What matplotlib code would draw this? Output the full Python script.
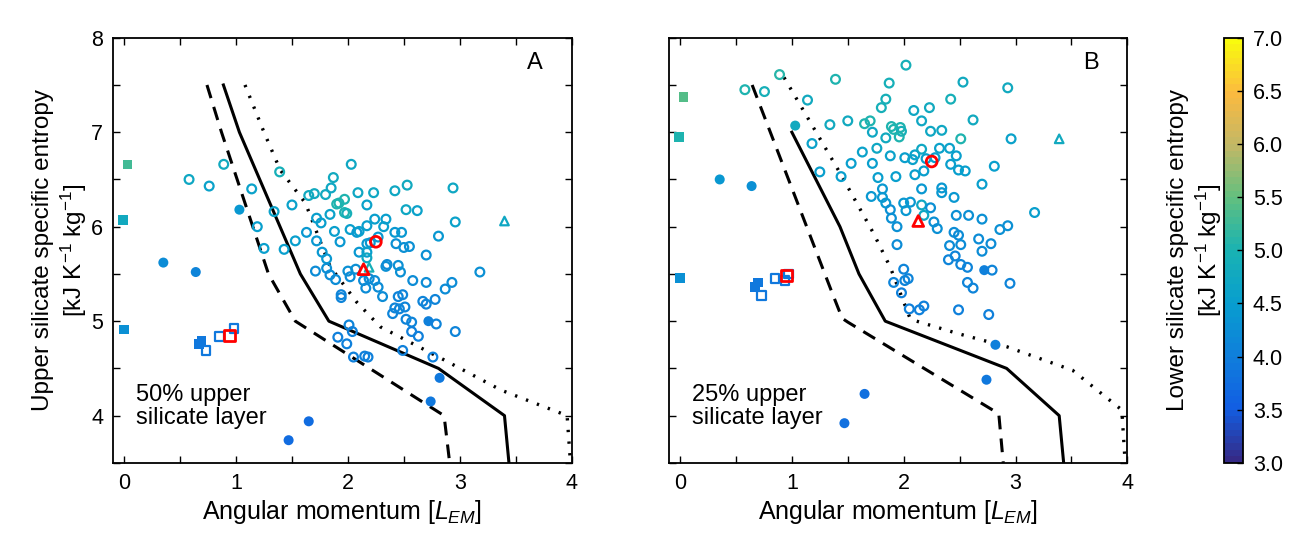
import matplotlib
matplotlib.use('Agg')
import matplotlib.pyplot as plt
import numpy as np
from matplotlib.colors import LinearSegmentedColormap, Normalize
from matplotlib.ticker import MultipleLocator
import matplotlib.cm as cm

plt.rcParams['font.family'] = ['Liberation Sans', 'DejaVu Sans']
plt.rcParams['mathtext.fontset'] = 'custom'
plt.rcParams['mathtext.rm'] = 'Liberation Sans'
plt.rcParams['mathtext.it'] = 'Liberation Sans:italic'

# parula-like colormap, 64 steps like the original
parula = LinearSegmentedColormap.from_list('parula', [
    (0.000, (0.208, 0.166, 0.529)),
    (0.125, (0.070, 0.370, 0.890)),
    (0.250, (0.060, 0.500, 0.860)),
    (0.375, (0.030, 0.620, 0.810)),
    (0.500, (0.100, 0.700, 0.700)),
    (0.625, (0.380, 0.750, 0.500)),
    (0.750, (0.760, 0.720, 0.400)),
    (0.875, (0.985, 0.730, 0.250)),
    (1.000, (0.976, 0.983, 0.054))], N=64)
norm = Normalize(3.0, 7.0)

# ---------------- panel A data (x = angular momentum, y = upper entropy, c = lower entropy)
a_open_x = [0.58, 0.76, 0.89, 1.14, 1.39, 1.34, 1.19, 1.25, 1.43, 1.50, 1.53, 1.65, 1.70, 1.80,
            1.85, 1.87, 2.03, 1.90, 1.92, 1.97, 1.97, 1.99, 1.84, 1.72, 1.76, 1.63, 1.72, 1.88,
            1.93, 2.02, 2.09, 2.17, 2.23, 2.42, 2.53, 2.52, 2.62, 2.94, 2.96, 2.24, 2.34, 2.17,
            2.08, 2.10, 2.32, 2.27, 2.17, 2.20, 2.42, 2.48, 2.43, 2.50, 2.55, 2.81, 2.70, 3.18,
            2.10, 2.17, 2.17, 1.77, 1.81, 1.71, 1.81, 1.84, 1.89, 2.00, 2.02, 2.07, 2.14, 2.19,
            2.24, 2.16, 2.27, 2.31, 2.34, 2.35, 2.45, 2.47, 2.58, 2.70, 2.93, 2.87, 2.78, 2.67,
            2.70, 2.45, 2.49, 2.51, 2.42, 2.46, 2.40, 2.52, 2.57, 2.79, 2.96, 2.57, 2.63, 2.49,
            2.76, 1.94, 1.94, 2.01, 2.04, 1.91, 1.99, 2.05, 2.15, 2.18]
a_open_y = [6.50, 6.43, 6.66, 6.40, 6.58, 6.16, 6.00, 5.77, 5.76, 6.23, 5.85, 6.33, 6.35, 6.34,
            6.41, 6.52, 6.66, 6.24, 6.25, 6.29, 6.15, 6.14, 6.13, 6.09, 6.04, 5.94, 5.85, 5.95,
            5.84, 5.97, 6.36, 6.23, 6.36, 6.38, 6.44, 6.18, 6.17, 6.41, 6.05, 6.08, 6.08, 6.01,
            5.94, 5.95, 6.00, 5.89, 5.82, 5.83, 5.94, 5.94, 5.82, 5.78, 5.79, 5.90, 5.70, 5.52,
            5.73, 5.73, 5.67, 5.73, 5.66, 5.53, 5.56, 5.49, 5.44, 5.53, 5.47, 5.55, 5.43, 5.45,
            5.43, 5.35, 5.36, 5.26, 5.58, 5.60, 5.59, 5.52, 5.43, 5.41, 5.41, 5.34, 5.23, 5.21,
            5.18, 5.26, 5.28, 5.15, 5.14, 5.13, 5.08, 5.02, 4.99, 4.97, 4.89, 4.89, 4.84, 4.69,
            4.62, 5.28, 5.25, 4.96, 4.89, 4.83, 4.76, 4.62, 4.63, 4.62]
a_open_c = [4.7, 4.6, 4.8, 4.6, 4.9, 4.6, 4.5, 4.5, 4.5, 4.6, 4.5, 4.8, 4.8, 4.8,
            4.7, 4.8, 4.7, 5.0, 5.0, 5.0, 5.0, 4.9, 4.6, 4.5, 4.5, 4.4, 4.4, 4.5,
            4.4, 4.5, 4.7, 4.6, 4.7, 4.7, 4.8, 4.7, 4.6, 4.7, 4.6, 4.5, 4.5, 4.5,
            4.4, 4.5, 4.5, 4.4, 4.4, 4.4, 4.4, 4.4, 4.3, 4.3, 4.3, 4.4, 4.3, 4.3,
            4.4, 4.5, 4.7, 4.4, 4.4, 4.2, 4.3, 4.2, 4.2, 4.3, 4.2, 4.3, 4.2, 4.2,
            4.2, 4.2, 4.2, 4.2, 4.3, 4.2, 4.3, 4.3, 4.2, 4.2, 4.2, 4.2, 4.1, 4.1,
            4.1, 4.1, 4.1, 4.1, 4.1, 4.1, 4.1, 4.1, 4.1, 4.1, 4.1, 4.0, 4.0, 4.0,
            4.0, 4.1, 4.1, 4.1, 4.0, 4.0, 4.0, 4.0, 4.0, 4.0]
a_fcirc_x = [0.35, 0.64, 1.03, 2.72, 2.82, 2.74, 1.65, 1.47]
a_fcirc_y = [5.62, 5.52, 6.18, 5.00, 4.40, 4.15, 3.94, 3.74]
a_fcirc_c = [4.2, 4.1, 4.4, 4.0, 3.9, 3.9, 3.7, 3.7]
a_fsq_x = [0.03, -0.01, 0.00, 0.69, 0.67]
a_fsq_y = [6.66, 6.07, 4.91, 4.79, 4.76]
a_fsq_c = [5.3, 4.8, 4.3, 3.9, 3.9]
a_osq_x = [0.73, 0.85, 0.98]
a_osq_y = [4.69, 4.84, 4.92]
a_osq_c = [3.9, 3.9, 3.9]
a_otri_x = [3.40, 2.19]
a_otri_y = [6.06, 5.57]
a_otri_c = [4.7, 4.9]
a_red_circ = (2.25, 5.84)
a_red_tri = (2.14, 5.55)
a_red_sq = (0.94, 4.85)

a_solid_x = [0.887, 1.03, 1.575, 1.83, 2.81, 3.40, 3.44]
a_solid_y = [7.5, 7.0, 5.5, 5.0, 4.5, 4.0, 3.5]
a_dash_x = [0.74, 0.87, 1.29, 1.53, 2.86, 2.91]
a_dash_y = [7.5, 7.0, 5.5, 5.0, 4.0, 3.5]
a_dot_x = [1.08, 1.25, 1.395, 1.62, 1.84, 2.08, 2.29, 2.86, 3.37, 3.96, 3.99]
a_dot_y = [7.5, 7.0, 6.6, 6.25, 5.58, 5.2, 4.94, 4.59, 4.27, 4.0, 3.5]

# ---------------- panel B data
b_open_x = [0.58, 0.755, 0.89, 1.14, 1.39, 1.18, 1.34, 1.50, 1.25, 1.44, 1.53, 1.65, 1.70, 1.72,
            1.63, 1.76, 1.72, 1.77, 1.80, 1.84, 1.87, 2.02, 1.84, 1.89, 1.91, 1.97, 1.98, 1.96,
            1.88, 2.01, 2.09, 2.10, 2.08, 2.16, 2.23, 2.16, 2.24, 2.34, 2.42, 2.53, 2.51, 2.62,
            2.93, 2.96, 2.32, 2.41, 2.47, 2.42, 2.49, 2.55, 2.81, 2.70, 3.17, 2.20, 2.28, 2.18,
            2.10, 1.93, 2.16, 2.34, 2.34, 2.45, 1.71, 1.81, 1.81, 1.84, 2.00, 2.06, 2.02, 1.88,
            1.89, 1.94, 2.16, 2.24, 2.18, 2.27, 2.30, 2.47, 2.58, 2.70, 2.86, 2.93, 2.45, 2.49,
            2.67, 2.78, 2.51, 2.41, 2.70, 2.46, 2.40, 2.51, 2.57, 2.79, 2.95, 2.57, 2.62, 2.49,
            2.76, 1.94, 2.00, 2.04, 2.01, 1.91, 1.98, 2.05, 2.14, 2.18]
b_open_y = [7.45, 7.43, 7.61, 7.34, 7.56, 6.88, 7.08, 7.12, 6.58, 6.53, 6.67, 7.09, 7.12, 7.00,
            6.79, 6.83, 6.67, 6.52, 7.26, 7.35, 7.52, 7.71, 6.94, 7.06, 7.03, 7.05, 7.01, 6.95,
            6.75, 6.73, 7.23, 6.76, 6.71, 7.12, 7.26, 6.82, 7.01, 7.02, 7.35, 7.53, 6.93, 7.13,
            7.47, 6.93, 6.83, 6.83, 6.75, 6.66, 6.60, 6.59, 6.64, 6.45, 6.15, 6.72, 6.73, 6.59,
            6.55, 6.53, 6.40, 6.41, 6.36, 6.31, 6.32, 6.40, 6.31, 6.25, 6.25, 6.26, 6.17, 6.18,
            6.09, 6.00, 6.23, 6.20, 6.12, 6.05, 5.98, 6.12, 6.12, 6.08, 5.97, 6.01, 5.94, 5.91,
            5.87, 5.82, 5.81, 5.80, 5.74, 5.69, 5.65, 5.60, 5.57, 5.54, 5.40, 5.41, 5.35, 5.12,
            5.07, 5.81, 5.55, 5.45, 5.43, 5.41, 5.30, 5.13, 5.12, 5.16]
b_open_c = [5.0, 4.9, 5.1, 4.8, 5.0, 4.6, 4.8, 4.8, 4.5, 4.5, 4.5, 5.0, 5.0, 4.7,
            4.6, 4.7, 4.5, 4.5, 4.9, 4.9, 4.9, 4.9, 4.8, 5.0, 5.0, 5.0, 4.9, 5.0,
            4.6, 4.5, 4.7, 4.6, 4.6, 4.7, 4.8, 4.7, 4.7, 4.7, 4.9, 4.8, 5.0, 4.8,
            4.8, 4.6, 4.6, 4.6, 4.5, 4.5, 4.5, 4.5, 4.5, 4.5, 4.5, 4.5, 4.5, 4.5,
            4.5, 4.5, 4.4, 4.4, 4.4, 4.4, 4.4, 4.4, 4.4, 4.4, 4.4, 4.4, 4.4, 4.3,
            4.3, 4.3, 4.7, 4.3, 4.7, 4.3, 4.3, 4.3, 4.3, 4.3, 4.3, 4.3, 4.2, 4.2,
            4.2, 4.2, 4.2, 4.2, 4.2, 4.1, 4.1, 4.1, 4.1, 4.1, 4.1, 4.1, 4.1, 4.0,
            4.0, 4.2, 4.1, 4.1, 4.1, 4.1, 4.0, 4.0, 4.0, 4.0]
b_fcirc_x = [1.03, 0.355, 0.64, 2.72, 2.82, 2.74, 1.65, 1.47]
b_fcirc_y = [7.07, 6.50, 6.43, 5.54, 4.75, 4.38, 4.23, 3.92]
b_fcirc_c = [4.8, 4.4, 4.3, 4.0, 4.0, 3.9, 3.8, 3.8]
b_fsq_x = [0.03, -0.01, 0.00, 0.70, 0.67]
b_fsq_y = [7.37, 6.95, 5.46, 5.41, 5.36]
b_fsq_c = [5.4, 5.0, 4.3, 3.9, 3.9]
b_osq_x = [0.73, 0.85, 0.94, 0.97]
b_osq_y = [5.27, 5.45, 5.43, 5.50]
b_osq_c = [3.9, 3.9, 3.9, 3.9]
b_otri_x = [3.39]
b_otri_y = [6.93]
b_otri_c = [4.8]
b_red_circ = (2.25, 6.69)
b_red_tri = (2.13, 6.06)
b_red_sq = (0.95, 5.48)

b_solid_x = [1.0, 1.43, 1.60, 1.835, 2.92, 3.39, 3.43]
b_solid_y = [7.0, 6.0, 5.5, 5.0, 4.5, 4.0, 3.5]
b_dash_x = [0.645, 1.36, 1.45, 1.50, 2.85, 2.89]
b_dash_y = [7.5, 5.3, 5.03, 4.99, 4.02, 3.5]
b_dot_x = [0.93, 1.43, 1.73, 1.88, 2.06, 2.48, 2.92, 3.51, 3.95, 3.98]
b_dot_y = [7.58, 6.57, 5.93, 5.57, 5.02, 4.87, 4.73, 4.48, 4.06, 3.5]


def draw_panel(ax, d, letter, note, show_ylabels):
    ax.plot(d['solid'][0], d['solid'][1], color='k', lw=2.2, zorder=1)
    ax.plot(d['dash'][0], d['dash'][1], color='k', lw=2.2, ls=(0, (4.5, 3)), zorder=1)
    ax.plot(d['dot'][0], d['dot'][1], color='k', lw=2.4, ls=(0, (0.7, 2.8)), zorder=1)

    ax.scatter(d['open'][0], d['open'][1], s=40, facecolors='none',
               edgecolors=parula(norm(np.array(d['open'][2]))), linewidths=1.6, zorder=3)
    ax.scatter(d['fcirc'][0], d['fcirc'][1], s=52, c=d['fcirc'][2], cmap=parula, norm=norm,
               edgecolors='none', zorder=3)
    ax.scatter(d['fsq'][0], d['fsq'][1], s=48, marker='s', c=d['fsq'][2], cmap=parula, norm=norm,
               edgecolors='none', zorder=3)
    ax.scatter(d['osq'][0], d['osq'][1], s=38, marker='s', facecolors='none',
               edgecolors=parula(norm(np.array(d['osq'][2]))), linewidths=1.6, zorder=3)
    ax.scatter(d['otri'][0], d['otri'][1], s=38, marker='^', facecolors='none',
               edgecolors=parula(norm(np.array(d['otri'][2]))), linewidths=1.6, zorder=3)
    rc, rt, rs = d['red']
    ax.scatter([rc[0]], [rc[1]], s=60, facecolors='none', edgecolors='red', linewidths=2, zorder=4)
    ax.scatter([rt[0]], [rt[1]], s=60, marker='^', facecolors='none', edgecolors='red', linewidths=2, zorder=4)
    ax.scatter([rs[0]], [rs[1]], s=60, marker='s', facecolors='none', edgecolors='red', linewidths=2, zorder=4)

    ax.set_xlim(-0.1, 4.0)
    ax.set_ylim(3.5, 8.0)
    ax.xaxis.set_major_locator(MultipleLocator(1))
    ax.xaxis.set_minor_locator(MultipleLocator(0.5))
    ax.yaxis.set_major_locator(MultipleLocator(1))
    ax.yaxis.set_minor_locator(MultipleLocator(0.5))
    ax.tick_params(which='both', direction='in', top=True, right=True, labelsize=15.5,
                   length=5, width=1.0, pad=7)
    for sp in ax.spines.values():
        sp.set_linewidth(1.3)
    if not show_ylabels:
        ax.set_yticklabels([])
    ax.set_xlabel('Angular momentum [$L_{EM}$]', fontsize=18, labelpad=3)
    ax.text(0.92, 0.94, letter, transform=ax.transAxes, fontsize=17, ha='center', va='center')
    ax.text(0.05, 0.08, note, transform=ax.transAxes, fontsize=17, ha='left', va='bottom',
            linespacing=1.05)


fig = plt.figure(figsize=(13.14, 5.55), dpi=100)
axA = fig.add_axes([0.086, 0.166, 0.349, 0.766])
axB = fig.add_axes([0.509, 0.166, 0.349, 0.766])
cax = fig.add_axes([0.9315, 0.166, 0.0145, 0.766])

dA = dict(open=(a_open_x, a_open_y, a_open_c), fcirc=(a_fcirc_x, a_fcirc_y, a_fcirc_c),
          fsq=(a_fsq_x, a_fsq_y, a_fsq_c), osq=(a_osq_x, a_osq_y, a_osq_c),
          otri=(a_otri_x, a_otri_y, a_otri_c), red=(a_red_circ, a_red_tri, a_red_sq),
          solid=(a_solid_x, a_solid_y), dash=(a_dash_x, a_dash_y), dot=(a_dot_x, a_dot_y))
dB = dict(open=(b_open_x, b_open_y, b_open_c), fcirc=(b_fcirc_x, b_fcirc_y, b_fcirc_c),
          fsq=(b_fsq_x, b_fsq_y, b_fsq_c), osq=(b_osq_x, b_osq_y, b_osq_c),
          otri=(b_otri_x, b_otri_y, b_otri_c), red=(b_red_circ, b_red_tri, b_red_sq),
          solid=(b_solid_x, b_solid_y), dash=(b_dash_x, b_dash_y), dot=(b_dot_x, b_dot_y))

draw_panel(axA, dA, 'A', '50% upper\nsilicate layer', True)
draw_panel(axB, dB, 'B', '25% upper\nsilicate layer', False)
axA.set_ylabel('Upper silicate specific entropy\n[kJ K$^{-1}$ kg$^{-1}$]', fontsize=17.5, labelpad=2)

sm = cm.ScalarMappable(norm=norm, cmap=parula)
cb = fig.colorbar(sm, cax=cax)
cb.set_ticks(np.arange(3.0, 7.01, 0.5))
cb.ax.tick_params(labelsize=15.5, direction='in', length=4, width=1.0, pad=7)
cb.outline.set_linewidth(1.3)
cb.ax.yaxis.set_label_position('left')
cb.set_label('Lower silicate specific entropy\n[kJ K$^{-1}$ kg$^{-1}$]', fontsize=17.5, labelpad=0)

fig.savefig('out.png', dpi=100)
